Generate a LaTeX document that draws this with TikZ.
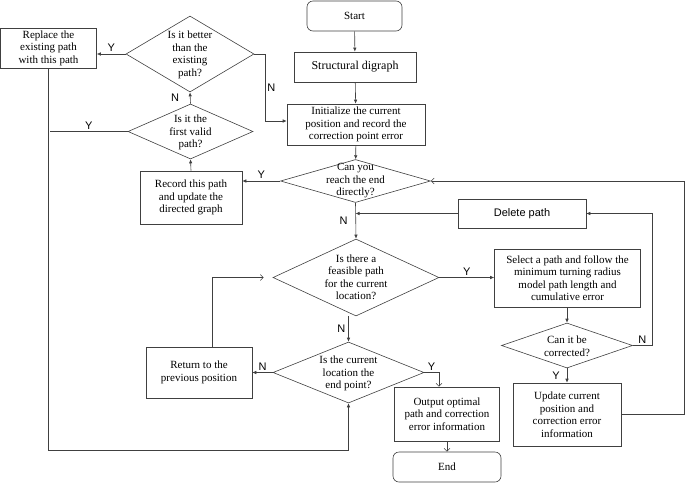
\documentclass[tikz,border=0pt]{standalone}
\usepackage{fontspec}
\setmainfont{Liberation Serif}
\setsansfont{Liberation Sans}
\usetikzlibrary{arrows.meta,shapes.geometric}

\begin{document}
\begin{tikzpicture}[x=1pt,y=-1pt,line width=.6pt,
    box/.style={draw=black!75,align=center,inner sep=1pt,font=\fontsize{11}{12.5}\selectfont},
    term/.style={box,rounded corners=6pt},
    dia/.style={diamond,draw=black!75,inner sep=0pt},
    txt/.style={align=center,inner sep=0pt,font=\fontsize{11}{12.5}\selectfont},
    lab/.style={font=\sffamily\fontsize{11}{12}\selectfont,inner sep=2pt},
    line/.style={draw=black!75},
    arr/.style={line,-{Latex[length=4pt,width=3.5pt]}},
    oarr/.style={line,-{Straight Barb[length=3pt,width=6pt]}}]
      \useasboundingbox (0,0) rectangle (685,483);

      % main column
      \node[term,minimum width=95pt,minimum height=30pt] (start) at (354.5,16) {Start};
      \node[box,font=\fontsize{12}{13}\selectfont,minimum width=122pt,minimum height=30pt] (digraph) at (355,67) {Structural digraph};
      \node[box,minimum width=138pt,minimum height=41pt] (init) at (356,124.5) {Initialize the current\\position and record the\\correction point error};
      \node[dia,minimum width=150pt,minimum height=43pt] (reach) at (355.5,181) {};
      \node[txt] (reach-t) at (reach) {Can you\\reach the end\\directly?};
      \node[dia,minimum width=166pt,minimum height=77pt] (feas) at (356,277.5) {};
      \node[txt] (feas-t) at (feas) {Is there a\\feasible path\\for the current\\location?};
      \node[dia,minimum width=151pt,minimum height=61pt] (current) at (348.5,372.5) {};
      \node[txt] (current-t) at ([yshift=-1pt]current) {Is the current\\location the\\end point?};
      \node[box,minimum width=105pt,minimum height=54pt] (output) at (447,414) {Output optimal\\path and correction\\error information};
      \node[term,minimum width=108pt,minimum height=30pt] (end) at (447,467) {End};

      % left part
      \node[box,minimum width=102pt,minimum height=53pt] (record) at (191,197.5) {Record this path\\and update the\\directed graph};
      \node[dia,minimum width=125pt,minimum height=55pt] (first) at (190.5,131.5) {};
      \node[txt] (first-t) at ([yshift=-1pt]first) {Is it the\\first valid\\path?};
      \node[dia,minimum width=128pt,minimum height=76pt] (better) at (190,54) {};
      \node[txt] (better-t) at ([yshift=-1pt]better) {Is it better\\than the\\existing\\path?};
      \node[box,minimum width=96pt,minimum height=40pt] (replace) at (48.5,48) {Replace the\\existing path\\with this path};
      \node[box,minimum width=106pt,minimum height=51pt] (return) at (199,372.5) {Return to the\\previous position};

      % right part
      \node[box,font=\sffamily\fontsize{11}{12}\selectfont,minimum width=128pt,minimum height=29pt] (delete) at (522,213.5) {Delete path};
      \node[box,minimum width=146pt,minimum height=58pt] (select) at (567.5,278) {Select a path and follow the\\minimum turning radius\\model path length and\\cumulative error};
      \node[dia,minimum width=131pt,minimum height=45pt] (corr) at (567,345.5) {};
      \node[txt] (corr-t) at ([yshift=-1pt]corr) {Can it be\\corrected?};
      \node[box,minimum width=108pt,minimum height=63pt] (update) at (567,414.5) {Update current\\position and\\correction error\\information};

      \coordinate (nbend) at (265,121);
      \coordinate (yend) at (50,131.5);
      \coordinate (nright) at (652,345.5);
      \coordinate (rright) at (684,414.5);
      \coordinate (bl) at (48.5,450);

      \draw[arr] (start) -- (digraph);
      \draw[arr] (digraph) -- (init);
      \draw[arr] (init) -- (reach);
      \draw[arr] (reach.west) -- node[lab,above] {Y} (reach.west -| record.east);
      \draw[arr] (record.north) -- (first.south);
      \draw[arr] (first.north) -- node[lab,left=9pt] {N} (better.south);
      \draw[arr] (better.west) -- node[lab,above] {Y} (better.west -| replace.east);
      \draw[arr] (better.east) -| node[lab,pos=.75,right] {N} (nbend) -- (nbend -| init.west);
      \draw[line] (first.west) -- node[lab,above] {Y} (yend);
      \draw[arr] (reach.south) -- node[lab,left=6pt] {N} (feas.north);
      \draw[arr] (delete.west) -- (delete.west -| reach.south);
      \draw[arr] (feas.east) -- node[lab,above] {Y} (feas.east -| select.west);
      \draw[arr] (corr.north |- select.south) -- (corr.north);
      \draw[arr] (corr.east) -- node[lab,above] {N} (nright) |- (delete.east);
      \draw[arr] (corr.south) -- node[lab,left=5pt] {Y} (update.north);
      \draw[oarr] (update.east) -- (rright) |- (reach.east);
      \draw[arr] (current.north |- feas.south) -- node[lab,left=1pt] {N} (current.north);
      \draw[arr] (current.west) -- node[lab,above] {N} (return.east);
      \draw[oarr] ([xshift=13pt]return.north) |- ([xshift=-9pt]feas.west);
      \draw[oarr] (current.east) -| node[lab,pos=.25,above] {Y} ([xshift=-8pt]output.north);
      \draw[oarr] (output) -- (end);
      \draw[arr] (replace.south) -- (bl) -| (current.south);
    \end{tikzpicture}
\end{document}
